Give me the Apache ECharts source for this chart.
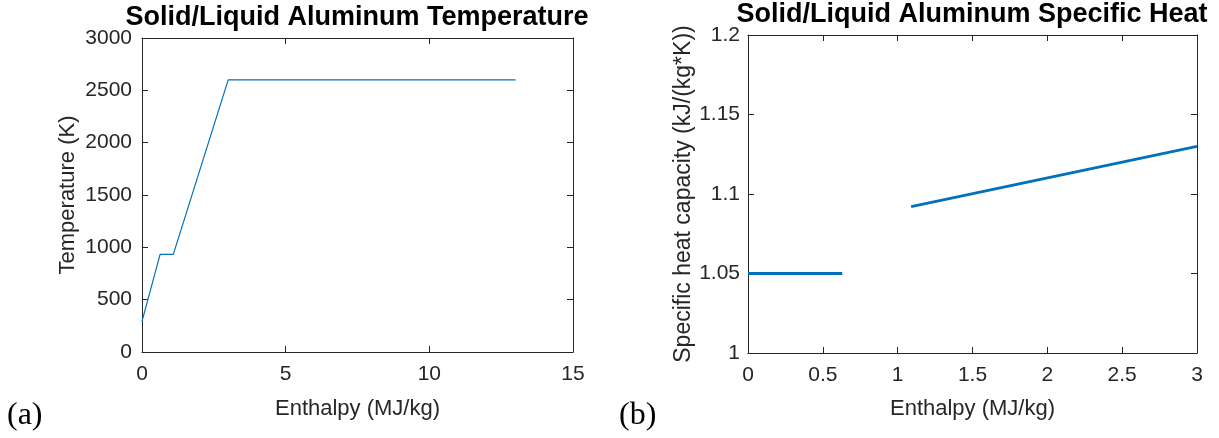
<!DOCTYPE html>
<html>
<head>
<meta charset="utf-8">
<script src="https://cdn.jsdelivr.net/npm/echarts@6/dist/echarts.min.js"></script>
<style>html,body{margin:0;padding:0;background:#fff}#c{width:1219px;height:438px}</style>
</head>
<body>
<div id="c"></div>
<script>
// ---- data ----
const tempEnthalpy = [0, 0.63, 1.09, 3.0, 13.0];
const tempValues = [293, 933, 933, 2600, 2600];
const cpSolidEnthalpy = [0, 0.63];
const cpSolidValues = [1.05, 1.05];
const cpLiquidEnthalpy = [1.09, 3.0];
const cpLiquidValues = [1.092, 1.13];
const titles = ['Solid/Liquid Aluminum Temperature', 'Solid/Liquid Aluminum Specific Heat'];
const xLabel = 'Enthalpy (MJ/kg)';
const yLabels = ['Temperature (K)', 'Specific heat capacity (kJ/(kg*K))'];
const panelLabels = ['(a)', '(b)'];

const zip = (xs, ys) => xs.map((x, i) => [x, ys[i]]);
const FONT = 'Liberation Sans, Arial, sans-serif';
const SERIF = 'Liberation Serif, Times New Roman, serif';
const AX = '#262626';
const LINE = '#0072BD';
const fmt = v => String(Math.round(v * 1000) / 1000);

function mainAxis(extra, labelMargin, nameSize) {
  return Object.assign({
    type: 'value',
    axisLine: { show: true, onZero: false, lineStyle: { color: AX, width: 1 } },
    axisTick: { show: true, inside: true, length: 6, lineStyle: { color: AX } },
    axisLabel: { color: AX, fontSize: 21, fontFamily: FONT, margin: labelMargin, formatter: fmt },
    splitLine: { show: false },
    nameTextStyle: { color: AX, fontSize: nameSize, fontFamily: FONT },
    nameLocation: 'middle'
  }, extra);
}
function boxAxis(extra) {
  return Object.assign({
    type: 'value',
    axisLine: { show: true, onZero: false, lineStyle: { color: AX, width: 1 } },
    axisTick: { show: true, inside: true, length: 6, lineStyle: { color: AX } },
    axisLabel: { show: false },
    splitLine: { show: false }
  }, extra);
}

const chart = echarts.init(document.getElementById('c'), null, { renderer: 'canvas' });
chart.setOption({
  animation: false,
  backgroundColor: '#fff',
  title: [
    { text: titles[0], left: 357, top: 4, padding: 0, textAlign: 'center',
      textStyle: { fontSize: 27, fontWeight: 'bold', color: '#000', fontFamily: FONT } },
    { text: titles[1], left: 972, top: 1, padding: 0, textAlign: 'center',
      textStyle: { fontSize: 27, fontWeight: 'bold', color: '#000', fontFamily: FONT } }
  ],
  grid: [
    { left: 142, top: 38, width: 431, height: 314, containLabel: false },
    { left: 748, top: 35, width: 449, height: 318, containLabel: false }
  ],
  xAxis: [
    mainAxis({ gridIndex: 0, min: 0, max: 15, interval: 5, name: xLabel, nameGap: 46 }, 12, 22),
    mainAxis({ gridIndex: 1, min: 0, max: 3, interval: 0.5, name: xLabel, nameGap: 45 }, 12, 22),
    boxAxis({ gridIndex: 0, position: 'top', min: 0, max: 15, interval: 5 }),
    boxAxis({ gridIndex: 1, position: 'top', min: 0, max: 3, interval: 0.5 })
  ],
  yAxis: [
    mainAxis({ gridIndex: 0, min: 0, max: 3000, interval: 500, name: yLabels[0], nameGap: 63 }, 10, 22),
    mainAxis({ gridIndex: 1, min: 1, max: 1.2, interval: 0.05, name: yLabels[1], nameGap: 42 }, 8, 23),
    boxAxis({ gridIndex: 0, position: 'right', min: 0, max: 3000, interval: 500 }),
    boxAxis({ gridIndex: 1, position: 'right', min: 1, max: 1.2, interval: 0.05 })
  ],
  series: [
    { type: 'line', xAxisIndex: 0, yAxisIndex: 0, data: zip(tempEnthalpy, tempValues),
      showSymbol: false, symbol: 'none', lineStyle: { color: LINE, width: 1.2 } },
    { type: 'line', xAxisIndex: 1, yAxisIndex: 1, data: zip(cpSolidEnthalpy, cpSolidValues),
      showSymbol: false, symbol: 'none', lineStyle: { color: LINE, width: 2.8 } },
    { type: 'line', xAxisIndex: 1, yAxisIndex: 1, data: zip(cpLiquidEnthalpy, cpLiquidValues),
      showSymbol: false, symbol: 'none', lineStyle: { color: LINE, width: 2.8 } }
  ],
  graphic: [
    { type: 'text', left: 7, top: 400, style: { text: panelLabels[0], fontSize: 32, fontFamily: SERIF, fill: '#000' } },
    { type: 'text', left: 619, top: 400, style: { text: panelLabels[1], fontSize: 32, fontFamily: SERIF, fill: '#000' } }
  ]
});
</script>
</body>
</html>
